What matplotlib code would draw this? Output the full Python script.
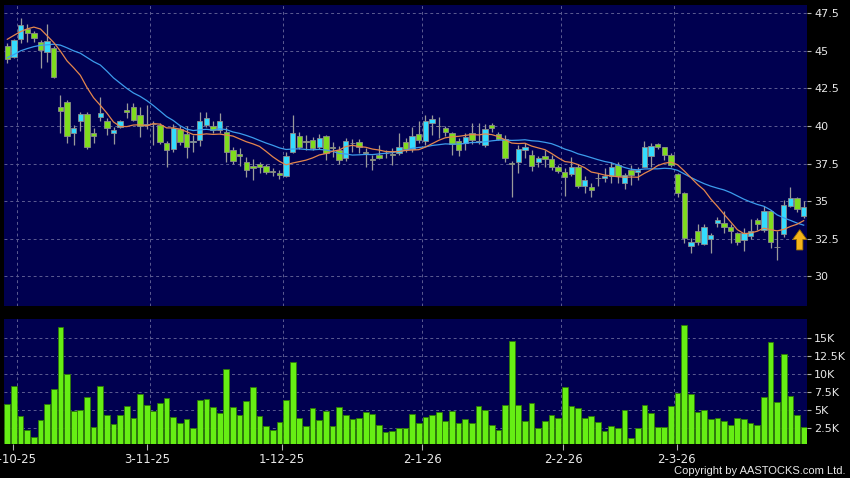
import matplotlib
matplotlib.use("Agg")
import matplotlib.pyplot as plt
import numpy as np
import pandas as pd

# date ticks (bar index of the labelled trading day)
tick_idx = [2, 22, 42, 63, 84, 101]
tick_labels = ["2-10-25", "3-11-25", "1-12-25", "2-1-26", "2-2-26", "2-3-26"]

opens = [45.35, 44.6, 45.77, 46.44, 46.17, 45.61, 44.91, 45.21, 41.29, 41.6,
         39.52, 40.34, 40.79, 39.52, 40.63, 40.3, 39.52, 39.9, 41.05, 41.29,
         40.74, 40.07, 40.1, 40.07, 38.9, 38.46, 39.8, 39.45, 38.93, 39.08,
         40.07, 40.0, 39.74, 39.63, 38.4, 38.12, 37.63, 37.35, 37.5, 37.33,
         36.98, 36.9, 36.7, 38.3, 39.3, 38.98, 39.08, 38.63, 39.3, 38.55,
         38.37, 37.87, 38.88, 38.96, 38.25, 37.76, 38.08, 38.2, 38.09, 38.19,
         38.96, 38.46, 39.47, 39.03, 40.19, 40.0, 39.89, 39.56, 39.03, 38.86,
         39.56, 38.92, 38.74, 40.07, 39.47, 39.12, 37.5, 37.63, 38.41, 38.08,
         37.63, 38.01, 37.83, 37.26, 36.97, 36.82, 37.26, 36.02, 35.97, 36.55,
         36.53, 36.64, 37.41, 36.2, 37.08, 36.95, 37.3, 38.01, 38.81, 38.59,
         38.08, 36.82, 35.57, 31.98, 32.98, 32.16, 32.47, 33.54, 33.54, 33.27,
         32.87, 32.43, 32.69, 33.76, 33.1, 34.31, 31.92, 32.82, 34.69, 35.2,
         33.98]
highs = [45.55, 45.8, 47.17, 46.77, 46.3, 45.7, 46.77, 45.3, 42.07, 41.74,
         40.07, 40.96, 40.96, 39.85, 41.96, 40.52, 39.96, 40.4, 41.5, 41.5,
         41.29, 41.4, 40.3, 40.2, 39.0, 40.1, 40.0, 40.0, 39.4, 40.9,
         40.9, 40.3, 40.85, 39.96, 38.6, 38.53, 37.96, 37.79, 37.6, 37.45,
         37.2, 37.08, 38.3, 40.74, 39.6, 39.4, 39.25, 39.45, 39.4, 38.96,
         38.7, 39.2, 39.1, 39.1, 38.52, 38.08, 38.74, 38.4, 38.52, 39.52,
         39.2, 39.96, 40.3, 40.74, 40.74, 40.63, 40.0, 39.63, 39.2, 39.5,
         40.2, 40.2, 40.1, 40.2, 39.63, 39.4, 37.7, 38.74, 38.85, 38.4,
         38.0, 38.4, 38.08, 37.4, 37.19, 37.96, 37.5, 36.64, 36.2, 36.86,
         37.2, 37.6, 37.6, 36.9, 37.4, 37.3, 39.0, 38.85, 38.9, 38.63,
         38.2, 36.9, 35.6, 32.54, 33.49, 33.5, 32.85, 33.95, 34.31, 33.5,
         32.95, 33.2, 33.8, 33.85, 34.7, 34.4, 32.98, 35.1, 35.93, 35.3,
         35.0]
lows = [44.2, 44.5, 45.5, 45.6, 45.6, 43.85, 44.24, 43.2, 39.52, 38.9,
        38.76, 39.67, 38.45, 38.86, 40.3, 39.4, 38.8, 39.85, 40.52, 40.3,
        39.26, 39.79, 38.74, 38.8, 37.3, 38.3, 38.75, 37.9, 38.3, 38.7,
        39.9, 39.52, 39.52, 37.63, 37.5, 37.35, 36.6, 36.42, 36.9, 36.8,
        36.64, 36.48, 36.6, 38.23, 38.5, 38.37, 38.4, 38.45, 37.75, 37.96,
        37.5, 37.7, 38.3, 38.2, 37.3, 37.08, 37.79, 37.9, 37.41, 38.08,
        38.3, 38.3, 38.9, 38.74, 39.4, 39.19, 39.3, 38.1, 38.0, 38.4,
        38.8, 38.8, 38.6, 39.6, 39.05, 37.6, 35.3, 36.86, 37.9, 37.0,
        37.3, 37.3, 37.1, 36.86, 35.35, 36.64, 35.85, 35.52, 35.3, 36.0,
        36.3, 36.2, 36.2, 35.8, 36.1, 36.4, 37.25, 37.3, 38.5, 37.75,
        37.3, 35.3, 32.2, 31.54, 32.1, 32.1, 31.54, 33.3, 32.9, 32.2,
        32.1, 31.7, 32.5, 33.1, 32.95, 31.87, 31.1, 32.6, 34.6, 34.3,
        33.9]
closes = [44.45, 45.75, 46.72, 46.17, 45.84, 45.06, 45.68, 43.28, 41.0, 39.34,
          39.86, 40.79, 38.63, 39.3, 40.86, 39.86, 39.74, 40.3, 40.9, 40.4,
          40.0, 40.1, 40.12, 38.93, 38.37, 39.85, 38.93, 38.63, 38.98, 40.3,
          40.54, 39.74, 40.32, 38.3, 37.7, 37.98, 37.04, 37.22, 37.26, 36.97,
          36.96, 36.72, 37.98, 39.52, 38.63, 38.95, 38.53, 39.19, 38.19, 38.52,
          37.75, 39.02, 38.85, 38.63, 38.22, 37.74, 37.9, 38.18, 38.07, 38.63,
          38.48, 39.3, 39.08, 40.36, 40.45, 39.98, 39.63, 38.79, 38.41, 39.24,
          39.08, 39.0, 39.78, 39.89, 39.12, 37.86, 37.46, 38.46, 38.63, 37.35,
          37.86, 37.83, 37.26, 37.03, 36.6, 37.26, 36.02, 36.42, 35.71, 36.52,
          36.68, 37.3, 36.64, 36.75, 36.75, 37.08, 38.63, 38.68, 38.59, 38.08,
          37.41, 35.57, 32.54, 32.31, 32.25, 33.27, 32.74, 33.77, 33.31, 32.98,
          32.25, 32.91, 32.98, 33.49, 34.31, 32.25, 31.96, 34.75, 35.24, 34.47,
          34.64]
volume_k = [5.9, 8.4, 4.25, 2.2, 1.3, 3.6, 5.9, 7.9, 16.6, 10.0,
            4.95, 5.1, 6.8, 2.7, 8.4, 4.35, 3.1, 4.35, 5.6, 3.9,
            7.3, 5.8, 4.9, 6.0, 6.7, 4.1, 3.2, 3.8, 2.5, 6.4,
            6.6, 5.4, 4.7, 10.7, 5.45, 4.4, 6.3, 8.3, 4.2, 2.8,
            2.3, 3.4, 6.5, 11.7, 4.0, 2.8, 5.3, 3.6, 4.95, 2.8,
            5.4, 4.35, 3.8, 4.0, 4.75, 4.45, 2.9, 2.0, 2.1, 2.55,
            2.6, 4.5, 3.2, 4.1, 4.3, 4.75, 3.55, 4.85, 3.2, 3.75,
            3.2, 5.6, 5.05, 2.95, 2.2, 5.8, 14.7, 5.8, 3.5, 6.05,
            2.6, 3.5, 4.35, 3.9, 8.2, 5.6, 5.3, 4.0, 4.25, 3.4,
            2.1, 2.8, 2.6, 5.05, 1.15, 2.6, 5.7, 4.6, 2.7, 2.7,
            5.6, 7.4, 16.85, 7.3, 4.8, 5.1, 3.8, 3.9, 3.5, 2.9,
            4.0, 3.8, 3.3, 2.9, 6.9, 14.5, 6.15, 12.9, 7.0, 4.3,
            2.7]
# moving averages before enough history is on screen
ma10_head = [45.77, 46.03, 46.28, 46.46, 46.58, 46.45, 46.0, 45.55, 44.98]
ma20_head = [44.55, 44.75, 45.0, 45.15, 45.28, 45.37, 45.4, 45.44, 45.38, 45.2,
             45.0, 44.84, 44.56, 44.28, 44.06, 43.65, 43.2, 42.85, 42.5]

price_ticks = [30, 32.5, 35, 37.5, 40, 42.5, 45, 47.5]
vol_ticks = [2.5, 5, 7.5, 10, 12.5, 15]

BG = "#000050"
CYAN = "#33dcff"
GREEN = "#7fdc1e"
VOLGREEN = "#66ee14"
GRID = "#5c5c92"
TXT = "#e8e8e8"

plt.rcParams["font.family"] = ["DejaVu Sans"]

close_s = pd.Series(closes)
ma10 = close_s.rolling(10).mean().to_numpy()
ma20 = close_s.rolling(20).mean().to_numpy()
ma10[:len(ma10_head)] = ma10_head
ma20[:len(ma20_head)] = ma20_head

o = np.array(opens)
h = np.array(highs)
l = np.array(lows)
c = np.array(closes)
n = len(c)
x = np.arange(n)
up = c >= o
body_lo = np.minimum(o, c)
body_h = np.maximum(np.abs(c - o), 0.05)

fig = plt.figure(figsize=(8.5, 4.78), dpi=100, facecolor="black")
ax = fig.add_axes([4 / 850, 1 - 306 / 478, 803 / 850, 301 / 478])
axv = fig.add_axes([4 / 850, 1 - 443.5 / 478, 803 / 850, 124.5 / 478], sharex=ax)

for a in (ax, axv):
    a.set_facecolor(BG)
    for s in a.spines.values():
        s.set_visible(False)
    for t in tick_idx:
        a.axvline(t - 0.5, color=GRID, lw=0.7, ls=(0, (3, 3)), zorder=1)
    a.yaxis.tick_right()
    a.tick_params(axis="y", colors="#b0b0b0", labelcolor=TXT, labelsize=8,
                  length=3, width=0.8, pad=2)
    a.yaxis.grid(True, color=GRID, lw=0.7, ls=(0, (3, 3)), zorder=1)
    a.set_axisbelow(True)

# price panel
ax.vlines(x, l, h, color="#9a9a9a", lw=0.9, zorder=2)
ax.bar(x[up], body_h[up], bottom=body_lo[up], width=0.82, color=CYAN,
       edgecolor="#8c8c8c", lw=0.6, zorder=3)
ax.bar(x[~up], body_h[~up], bottom=body_lo[~up], width=0.82, color=GREEN,
       edgecolor="#8c8c8c", lw=0.6, zorder=3)
ax.plot(x, ma20, color="#3c9cec", lw=0.9, zorder=4)
ax.plot(x, ma10, color="#e5864c", lw=0.9, zorder=4)

# marker arrow under the last bar
ax.arrow(x[-1] - 0.6, l[-1] - 2.15, 0, 1.35, width=0.95, head_width=2.1,
         head_length=0.65, length_includes_head=True, fc="#f4b41a",
         ec="#9a7000", lw=0.6, zorder=5)

ax.set_ylim(28.02, 48.05)
ax.set_yticks(price_ticks)
ax.set_yticklabels([f"{v:g}" for v in price_ticks])
ax.tick_params(axis="x", bottom=False, labelbottom=False)

# volume panel
axv.bar(x, volume_k, width=0.85, color=VOLGREEN, edgecolor="#2e7a06",
        lw=0.6, zorder=3)
axv.set_ylim(0.39, 17.7)
axv.set_yticks(vol_ticks)
axv.set_yticklabels([f"{v:g}K" for v in vol_ticks])
axv.set_xlim(-0.5, n - 0.5)
# the date labels sit a little off the grid lines, as in the source chart
axv.set_xticks([t - 0.5 + d for t, d in zip(tick_idx, [-0.6, -0.4, -0.15, 0, 0.3, 0.4])])
axv.set_xticklabels(tick_labels)
axv.tick_params(axis="x", colors="#b0b0b0", labelcolor=TXT, labelsize=8.5,
                length=4, width=0.8, pad=3)

fig.text(845 / 850, 1 - 471 / 478, "Copyright by AASTOCKS.com Ltd.",
         color=TXT, fontsize=8, ha="right", va="center",
         family=["Liberation Sans", "DejaVu Sans"])

fig.savefig("out.png", dpi=100, facecolor="black")
